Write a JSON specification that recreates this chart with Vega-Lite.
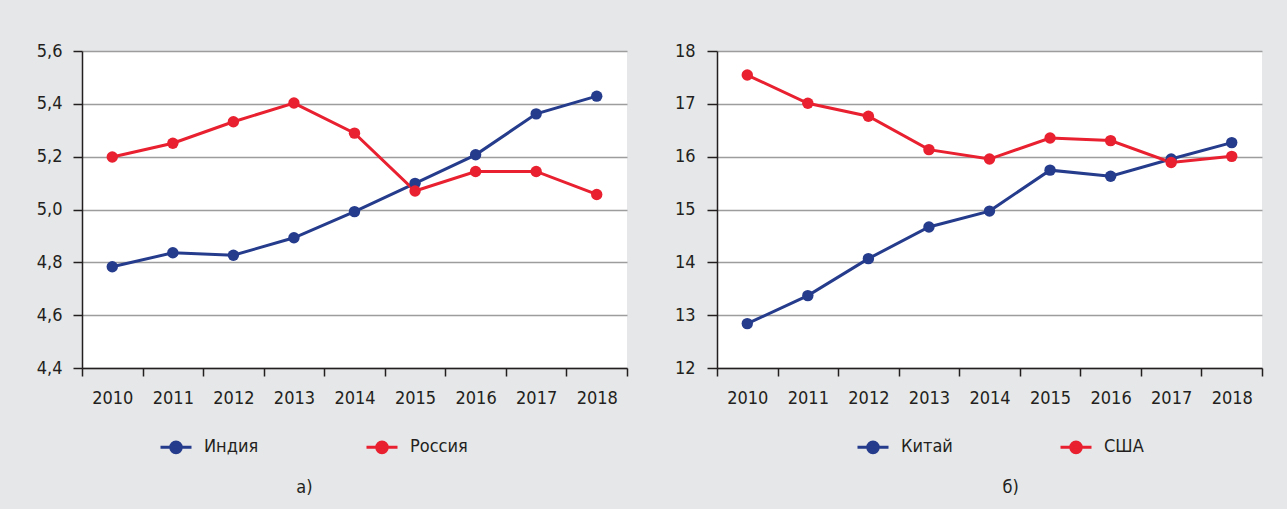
{
  "$schema": "https://vega.github.io/schema/vega-lite/v6.json",
  "background": "#e6e7e8",
  "padding": {"left": 36, "top": 42, "right": 30, "bottom": 12},
  "spacing": 46,
  "config": {
    "font": "DejaVu Sans Condensed, Roboto",
    "view": {"fill": "white", "stroke": null},
    "axis": {
      "labelFont": "DejaVu Sans Condensed, Roboto",
      "labelFontSize": 18,
      "labelColor": "#231f20",
      "domainColor": "#231f20",
      "domainWidth": 1.5,
      "tickColor": "#231f20",
      "tickWidth": 1.5,
      "gridColor": "#9d9d9d",
      "gridWidth": 1.5,
      "title": null
    },
    "legend": {
      "labelFont": "DejaVu Sans Condensed, Roboto",
      "labelFontSize": 18,
      "labelColor": "#231f20"
    },
    "title": {"font": "DejaVu Sans Condensed, Roboto", "fontSize": 18, "fontWeight": "normal", "color": "#231f20"}
  },
  "datasets": {
    "a": [
      {"year": "2010", "country": "Индия", "value": 4.783},
      {"year": "2011", "country": "Индия", "value": 4.836},
      {"year": "2012", "country": "Индия", "value": 4.827},
      {"year": "2013", "country": "Индия", "value": 4.893},
      {"year": "2014", "country": "Индия", "value": 4.992},
      {"year": "2015", "country": "Индия", "value": 5.099},
      {"year": "2016", "country": "Индия", "value": 5.207},
      {"year": "2017", "country": "Индия", "value": 5.362},
      {"year": "2018", "country": "Индия", "value": 5.429},
      {"year": "2010", "country": "Россия", "value": 5.199},
      {"year": "2011", "country": "Россия", "value": 5.251},
      {"year": "2012", "country": "Россия", "value": 5.332},
      {"year": "2013", "country": "Россия", "value": 5.403},
      {"year": "2014", "country": "Россия", "value": 5.289},
      {"year": "2015", "country": "Россия", "value": 5.070},
      {"year": "2016", "country": "Россия", "value": 5.144},
      {"year": "2017", "country": "Россия", "value": 5.144},
      {"year": "2018", "country": "Россия", "value": 5.057}
    ],
    "b": [
      {"year": "2010", "country": "Китай", "value": 12.84},
      {"year": "2011", "country": "Китай", "value": 13.37},
      {"year": "2012", "country": "Китай", "value": 14.07},
      {"year": "2013", "country": "Китай", "value": 14.67},
      {"year": "2014", "country": "Китай", "value": 14.97},
      {"year": "2015", "country": "Китай", "value": 15.745},
      {"year": "2016", "country": "Китай", "value": 15.63},
      {"year": "2017", "country": "Китай", "value": 15.955},
      {"year": "2018", "country": "Китай", "value": 16.266},
      {"year": "2010", "country": "США", "value": 17.545},
      {"year": "2011", "country": "США", "value": 17.01},
      {"year": "2012", "country": "США", "value": 16.766},
      {"year": "2013", "country": "США", "value": 16.133},
      {"year": "2014", "country": "США", "value": 15.955},
      {"year": "2015", "country": "США", "value": 16.354},
      {"year": "2016", "country": "США", "value": 16.304},
      {"year": "2017", "country": "США", "value": 15.89},
      {"year": "2018", "country": "США", "value": 16.006}
    ]
  },
  "resolve": {"scale": {"color": "independent", "x": "independent", "y": "independent"}, "legend": {"color": "independent"}},
  "hconcat": [
    {
      "width": 545,
      "height": 317,
      "data": {"name": "a"},
      "title": {"text": "а)", "orient": "bottom", "anchor": "start", "dx": 260, "offset": 20},
      "encoding": {
        "x": {"field": "year", "type": "ordinal", "scale": {"type": "band", "paddingInner": 0, "paddingOuter": 0},
              "axis": {"tickBand": "extent", "labelAngle": 0, "tickSize": 8, "labelPadding": 13, "domain": true, "grid": false}},
        "y": {"field": "value", "type": "quantitative", "scale": {"domain": [4.4, 5.6], "nice": false, "zero": false},
              "axis": {"values": [4.4, 4.6, 4.8, 5.0, 5.2, 5.4, 5.6], "labelExpr": "replace(format(datum.value, '.1f'), '.', ',')", "tickSize": 9, "labelPadding": 11, "grid": true}},
        "color": {"field": "country", "type": "nominal",
                  "scale": {"domain": ["Индия", "Россия"], "range": ["#253b8c", "#e8202f"]},
                  "legend": {"orient": "none", "legendX": 77, "legendY": 379, "direction": "horizontal", "title": null,
                             "symbolType": "M-1,0L1,0M-0.34,0A0.34,0.34,0,1,1,0.34,0A0.34,0.34,0,1,1,-0.34,0Z",
                             "symbolSize": 961, "symbolStrokeWidth": 3, "labelOffset": 11, "columnPadding": 101}}
      },
      "layer": [
        {"mark": {"type": "line", "strokeWidth": 3}},
        {"mark": {"type": "point", "filled": true, "size": 130, "opacity": 1}}
      ]
    },
    {
      "width": 545,
      "height": 317,
      "data": {"name": "b"},
      "title": {"text": "б)", "orient": "bottom", "anchor": "start", "dx": 328, "offset": 20},
      "encoding": {
        "x": {"field": "year", "type": "ordinal", "scale": {"type": "band", "paddingInner": 0, "paddingOuter": 0},
              "axis": {"tickBand": "extent", "labelAngle": 0, "tickSize": 8, "labelPadding": 13, "domain": true, "grid": false}},
        "y": {"field": "value", "type": "quantitative", "scale": {"domain": [12, 18], "nice": false, "zero": false},
              "axis": {"values": [12, 13, 14, 15, 16, 17, 18], "tickSize": 10, "labelPadding": 12, "grid": true}},
        "color": {"field": "country", "type": "nominal",
                  "scale": {"domain": ["Китай", "США"], "range": ["#253b8c", "#e8202f"]},
                  "legend": {"orient": "none", "legendX": 139, "legendY": 379, "direction": "horizontal", "title": null,
                             "symbolType": "M-1,0L1,0M-0.34,0A0.34,0.34,0,1,1,0.34,0A0.34,0.34,0,1,1,-0.34,0Z",
                             "symbolSize": 961, "symbolStrokeWidth": 3, "labelOffset": 11, "columnPadding": 101}}
      },
      "layer": [
        {"mark": {"type": "line", "strokeWidth": 3}},
        {"mark": {"type": "point", "filled": true, "size": 130, "opacity": 1}}
      ]
    }
  ]
}
